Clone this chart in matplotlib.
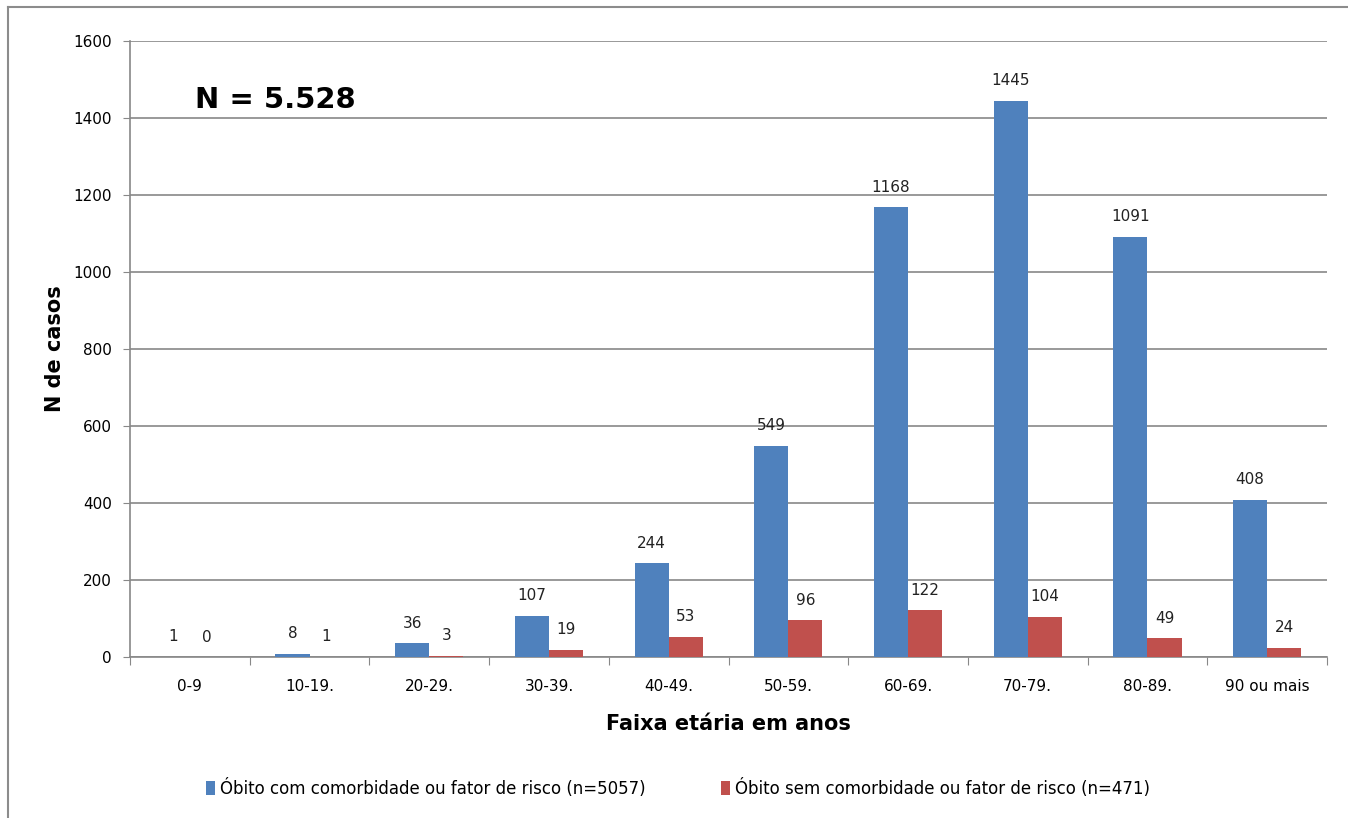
import matplotlib.pyplot as plt
from matplotlib.lines import Line2D
import numpy as np

plt.rcParams['font.family'] = ['DejaVu Sans']

faixas = ["0-9", "10-19.", "20-29.", "30-39.", "40-49.", "50-59.",
          "60-69.", "70-79.", "80-89.", "90 ou mais"]
com_comorb = [1, 8, 36, 107, 244, 549, 1168, 1445, 1091, 408]
sem_comorb = [0, 1, 3, 19, 53, 96, 122, 104, 49, 24]
label_com = "Óbito com comorbidade ou fator de risco (n=5057)"
label_sem = "Óbito sem comorbidade ou fator de risco (n=471)"

BLUE = "#4F81BD"
RED = "#C0504D"
GRID = "#888888"

fig = plt.figure(figsize=(13.48, 8.18), dpi=100)
ax = fig.add_axes([130 / 1348, 1 - 657 / 818, 1197 / 1348, 616 / 818])

x = np.arange(len(faixas))
w = 0.285
b1 = ax.bar(x - w / 2, com_comorb, w, color=BLUE, label=label_com, zorder=3)
b2 = ax.bar(x + w / 2, sem_comorb, w, color=RED, label=label_sem, zorder=3)

for bars in (b1, b2):
    for bar in bars:
        h = bar.get_height()
        ax.annotate(f"{int(h)}", (bar.get_x() + bar.get_width() / 2, h),
                    xytext=(0, 9), textcoords="offset points",
                    ha="center", va="bottom", fontsize=11, color="#222222")

ax.set_xlim(-0.5, len(faixas) - 0.5)
ax.set_ylim(0, 1600)
ax.set_yticks(range(0, 1601, 200))
ax.yaxis.grid(True, color=GRID, linewidth=1.2, zorder=0)
ax.tick_params(axis="y", length=5, color=GRID, labelsize=11, pad=8)

# category boundaries as major ticks, names centred between them
ax.set_xticks(np.arange(-0.5, len(faixas), 1.0))
ax.set_xticklabels([])
ax.set_xticks(x, minor=True)
ax.set_xticklabels(faixas, minor=True, fontsize=11)
ax.tick_params(axis="x", which="major", length=6, color=GRID)
ax.tick_params(axis="x", which="minor", length=0, pad=16)

for s in ("top", "right"):
    ax.spines[s].set_visible(False)
for s in ("left", "bottom"):
    ax.spines[s].set_color(GRID)
    ax.spines[s].set_linewidth(1.2)

ax.set_ylabel("N de casos", fontsize=15, fontweight="bold", labelpad=6)
ax.set_xlabel("Faixa etária em anos", fontsize=15, fontweight="bold", labelpad=14)

ax.text(0.054, 0.905, "N = 5.528", transform=ax.transAxes,
        fontsize=21, fontweight="bold", va="center")

fig.legend(handles=[b1, b2], loc="center", bbox_to_anchor=(0.503, 1 - 788 / 818),
           ncol=2, frameon=False, fontsize=12, handlelength=0.55,
           handleheight=0.9, handletextpad=0.3, columnspacing=4.5)

# outer chart frame
fig.add_artist(Line2D([8 / 1348, 8 / 1348], [0, 1 - 7 / 818],
                      transform=fig.transFigure, color="#8c8c8c", linewidth=1.5))
fig.add_artist(Line2D([8 / 1348, 1], [1 - 7 / 818, 1 - 7 / 818],
                      transform=fig.transFigure, color="#8c8c8c", linewidth=1.5))

plt.savefig("out.png", dpi=100)
plt.close()
